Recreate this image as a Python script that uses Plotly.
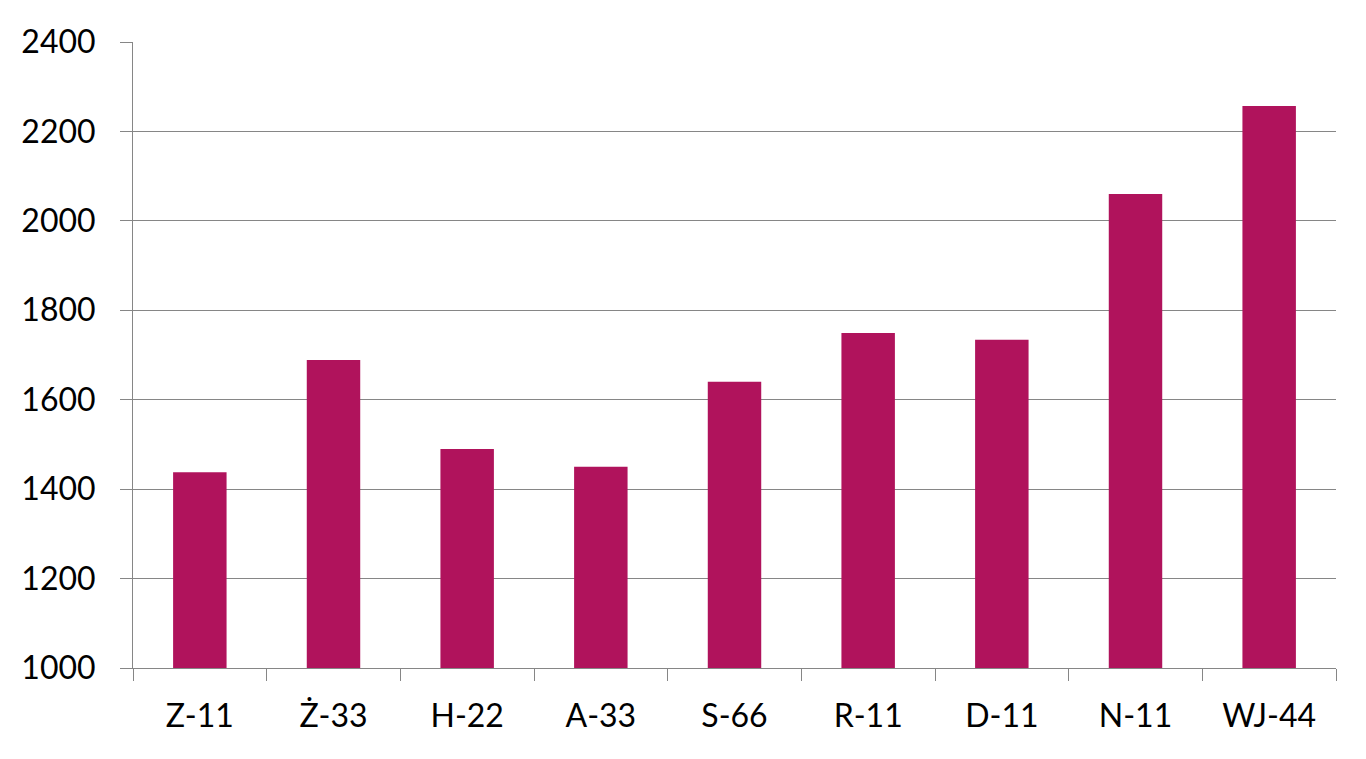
import plotly.graph_objects as go

# categories and values
categories = ['Z-11', 'Ż-33', 'H-22', 'A-33', 'S-66', 'R-11', 'D-11', 'N-11', 'WJ-44']
values = [1438, 1689, 1490, 1450, 1640, 1749, 1734, 2060, 2257]
y_ticks = [1000, 1200, 1400, 1600, 1800, 2000, 2200, 2400]

bar_color = 'rgb(176, 19, 92)'
line_gray = '#868686'
font_name = 'Lato'

fig = go.Figure()
fig.add_trace(go.Bar(x=categories,
                     y=values,
                     marker=dict(color=bar_color, line=dict(width=0)),
                     hoverinfo='x+y'))

# page body has an 8px margin, so the figure is a bit smaller than the window
fig.update_layout(width=1350,
                  height=743,
                  margin=dict(l=125, r=22, t=34, b=83),
                  paper_bgcolor='white',
                  plot_bgcolor='white',
                  bargap=0.6,
                  showlegend=False,
                  font=dict(family=font_name, size=32, color='black'))

fig.update_xaxes(showgrid=False,
                 showline=True,
                 linecolor=line_gray,
                 linewidth=1,
                 ticks='outside',
                 tickson='boundaries',
                 ticklen=12,
                 tickcolor=line_gray,
                 ticklabelstandoff=20,
                 tickfont=dict(family=font_name, size=32, color='black'))

fig.update_yaxes(range=[1000, 2400],
                 tickvals=y_ticks,
                 showgrid=True,
                 gridcolor=line_gray,
                 gridwidth=1,
                 zeroline=False,
                 showline=True,
                 linecolor=line_gray,
                 linewidth=1,
                 ticks='outside',
                 ticklen=12,
                 tickcolor=line_gray,
                 ticklabelstandoff=18,
                 tickfont=dict(family=font_name, size=32, color='black'))

fig.write_html('out.html')
